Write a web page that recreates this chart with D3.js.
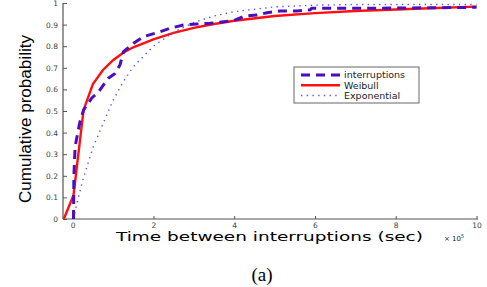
<!DOCTYPE html>
<html>
<head>
<meta charset="utf-8">
<script src="https://cdn.jsdelivr.net/npm/d3@7"></script>
<style>
  body { margin: 0; background: #fff; }
  svg { display: block; }
  .tick text { font-family: "DejaVu Sans", sans-serif; fill: #444; }
</style>
</head>
<body>
<svg width="487" height="287"></svg>
<script>
// values (x in units of 1e5 sec)
const interruptX = [0.02, 0.03, 0.06, 0.1, 0.18, 0.27, 0.47, 0.64, 0.88, 1.05, 1.17, 1.26, 1.5, 1.75, 2.17, 2.41, 2.74, 3.08, 3.4, 3.98, 4.27, 4.56, 4.81, 5.14, 5.55, 5.88, 5.92, 6.4, 7.6, 9.0, 10];
const interruptY = [0, 0.2, 0.335, 0.374, 0.45, 0.505, 0.559, 0.589, 0.651, 0.674, 0.713, 0.775, 0.813, 0.844, 0.867, 0.883, 0.898, 0.903, 0.906, 0.918, 0.94, 0.944, 0.955, 0.963, 0.963, 0.968, 0.976, 0.976, 0.976, 0.978, 0.98];

const weibullX = [-0.22, 0.02, 0.27, 0.5, 0.75, 1.0, 1.25, 1.5, 2, 2.5, 3, 3.5, 4, 5, 6, 7, 8, 9, 10];
const weibullY = [0, 0.11, 0.505, 0.625, 0.69, 0.735, 0.77, 0.795, 0.832, 0.862, 0.885, 0.903, 0.918, 0.94, 0.953, 0.963, 0.97, 0.977, 0.983];

const expX = [0.02, 0.1, 0.25, 0.5, 0.75, 1.0, 1.25, 1.5, 2.0, 2.5, 3.0, 3.5, 4.0, 5, 6, 7, 8, 9, 10];
const expY = [0, 0.07, 0.18, 0.33, 0.44, 0.55, 0.635, 0.705, 0.80, 0.865, 0.91, 0.94, 0.96, 0.982, 0.99, 0.993, 0.993, 0.993, 0.993];

const xTicks = [0, 2, 4, 6, 8, 10];
const yTicks = [0, 0.1, 0.2, 0.3, 0.4, 0.5, 0.6, 0.7, 0.8, 0.9, 1];
const seriesNames = ['interruptions', 'Weibull', 'Exponential'];

const svg = d3.select('svg');

const x = d3.scaleLinear().domain([-0.24, 10]).range([63, 476.5]);
const y = d3.scaleLinear().domain([0, 1]).range([219, 3]);

// axes, MATLAB style ticks pointing inward
const xAxis = svg.append('g')
  .attr('transform', 'translate(0,219)')
  .call(d3.axisBottom(x).tickValues(xTicks).tickSize(-3).tickPadding(4).tickFormat(d3.format('d')));
const yAxis = svg.append('g')
  .attr('transform', 'translate(63,0)')
  .call(d3.axisLeft(y).tickValues(yTicks).tickSize(-4).tickPadding(5).tickFormat(d => d === 0 || d === 1 ? d : d3.format('.1f')(d)));

[xAxis, yAxis].forEach(g => {
  g.select('.domain').attr('stroke', '#555').attr('stroke-width', 1.2);
  g.selectAll('.tick line').attr('stroke', '#555');
  g.selectAll('.tick text').style('font-size', '7.5px');
});
xAxis.select('.domain').attr('d', 'M63,0H478');
yAxis.select('.domain').attr('d', 'M0,219V3');

const line = d3.line().x(d => x(d[0])).y(d => y(d[1]));

const series = [
  { name: seriesNames[1], pts: d3.zip(weibullX, weibullY), color: '#ff1010', width: 2.4, dash: null },
  { name: seriesNames[2], pts: d3.zip(expX, expY), color: '#5555ff', width: 1.4, dash: '1.4,4.3' },
  { name: seriesNames[0], pts: d3.zip(interruptX, interruptY), color: '#4b0dbd', width: 3, dash: '9,6' }
];

svg.append('g').selectAll('path')
  .data(series)
  .join('path')
  .attr('d', d => line(d.pts))
  .attr('fill', 'none')
  .attr('stroke', d => d.color)
  .attr('stroke-width', d => d.width)
  .attr('stroke-dasharray', d => d.dash);

// legend
const legend = svg.append('g').attr('transform', 'translate(294,67)');
legend.append('rect')
  .attr('width', 125).attr('height', 36)
  .attr('fill', '#fff').attr('stroke', '#666').attr('stroke-width', 1);
const order = [series[2], series[0], series[1]];
const item = legend.selectAll('.item').data(order).join('g')
  .attr('transform', (d, i) => `translate(0,${8 + i * 10.3})`);
item.append('line')
  .attr('x1', 7).attr('x2', 46)
  .attr('stroke', d => d.color)
  .attr('stroke-width', d => d.name === 'Exponential' ? 1.5 : d.width)
  .attr('stroke-dasharray', d => d.dash);
item.append('text')
  .attr('x', 50).attr('dy', '0.35em')
  .style('font-family', '"DejaVu Sans", sans-serif')
  .style('font-size', '9.5px')
  .attr('fill', '#222')
  .text(d => d.name);

// axis titles
svg.append('text')
  .attr('transform', 'translate(31,119) rotate(-90)')
  .attr('text-anchor', 'middle')
  .attr('textLength', 168).attr('lengthAdjust', 'spacingAndGlyphs')
  .style('font-family', '"Liberation Sans", sans-serif')
  .style('font-size', '16px')
  .text('Cumulative probability');

svg.append('text')
  .attr('x', 116).attr('y', 241)
  .attr('textLength', 307).attr('lengthAdjust', 'spacingAndGlyphs')
  .style('font-family', '"DejaVu Sans", sans-serif')
  .style('font-size', '12.5px')
  .text('Time between interruptions (sec)');

const mult = svg.append('text')
  .attr('x', 444).attr('y', 241)
  .style('font-family', '"DejaVu Sans", sans-serif')
  .style('font-size', '7px')
  .attr('fill', '#222');
mult.append('tspan').text('× 10');
mult.append('tspan').attr('dy', -3).style('font-size', '5px').text('5');

svg.append('text')
  .attr('x', 262).attr('y', 281)
  .attr('text-anchor', 'middle')
  .style('font-family', '"Liberation Serif", serif')
  .style('font-size', '19px')
  .text('(a)');
</script>
</body>
</html>
